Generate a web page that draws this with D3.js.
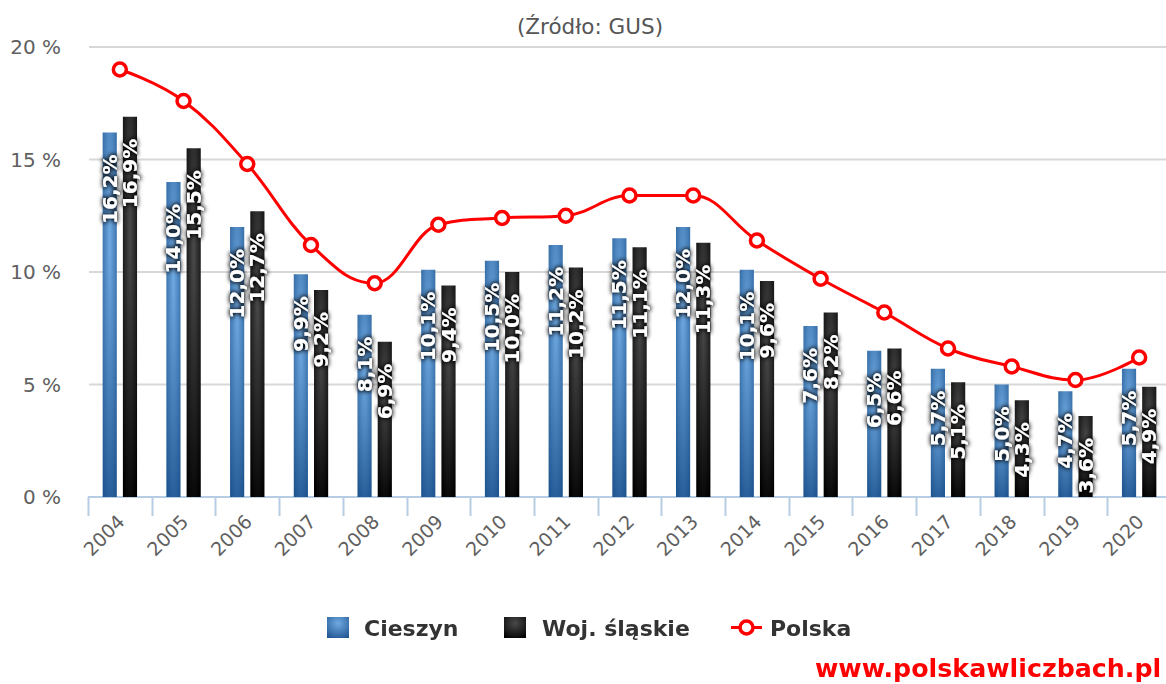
<!DOCTYPE html>
<html>
<head>
<meta charset="utf-8">
<script src="https://cdn.jsdelivr.net/npm/d3@7"></script>
<style>
  html, body { margin: 0; padding: 0; background: #fff; }
  svg { display: block; font-family: "DejaVu Sans", Verdana, sans-serif; }
</style>
</head>
<body>
<svg id="chart" width="1166" height="684"></svg>
<script>
const years = ['2004','2005','2006','2007','2008','2009','2010','2011','2012','2013','2014','2015','2016','2017','2018','2019','2020'];
const cieszyn = [16.2, 14.0, 12.0, 9.9, 8.1, 10.1, 10.5, 11.2, 11.5, 12.0, 10.1, 7.6, 6.5, 5.7, 5.0, 4.7, 5.7];
const slaskie = [16.9, 15.5, 12.7, 9.2, 6.9, 9.4, 10.0, 10.2, 11.1, 11.3, 9.6, 8.2, 6.6, 5.1, 4.3, 3.6, 4.9];
const polska  = [19.0, 17.6, 14.8, 11.2, 9.5, 12.1, 12.4, 12.5, 13.4, 13.4, 11.4, 9.7, 8.2, 6.6, 5.8, 5.2, 6.2];
const yTicks = [0, 5, 10, 15, 20];
const seriesNames = ['Cieszyn', 'Woj. śląskie', 'Polska'];
const titleText = '(Źródło: GUS)';
const creditText = 'www.polskawliczbach.pl';

const svg = d3.select('#chart');
const W = 1166, H = 684;
const plot = { left: 88, right: 1171, top: 47, bottom: 497 };

const defs = svg.append('defs');
function radial(id, c0, c1) {
  const g = defs.append('radialGradient').attr('id', id)
    .attr('cx', 0.5).attr('cy', 0.3).attr('r', 0.8);
  g.append('stop').attr('offset', 0).attr('stop-color', c0);
  g.append('stop').attr('offset', 1).attr('stop-color', c1);
}
radial('gBlue', '#70aae2', '#1f5590');
radial('gBlack', '#4a4a4a', '#000000');
const f = defs.append('filter').attr('id', 'ts')
  .attr('x', '-50%').attr('y', '-50%').attr('width', '200%').attr('height', '200%');
f.append('feMorphology').attr('in', 'SourceAlpha').attr('operator', 'dilate').attr('radius', 1.2).attr('result', 'd');
f.append('feGaussianBlur').attr('in', 'd').attr('stdDeviation', 2).attr('result', 'b');
f.append('feFlood').attr('flood-color', '#000').attr('flood-opacity', 0.9);
f.append('feComposite').attr('in2', 'b').attr('operator', 'in').attr('result', 's');
const fm = f.append('feMerge');
fm.append('feMergeNode').attr('in', 's');
fm.append('feMergeNode').attr('in', 'SourceGraphic');

// scales
const xb = d3.scaleBand().domain(years).range([plot.left, plot.right]).padding(0);
const x0 = d3.scaleBand().domain(years).range([plot.left, plot.right])
  .paddingInner(0.46).paddingOuter(0.23);
const x1 = d3.scaleBand().domain(['c', 's']).range([0, x0.bandwidth()]).paddingInner(0.3);
const y = d3.scaleLinear().domain([0, 20]).range([plot.bottom, plot.top]);

// title
svg.append('text').attr('x', 590).attr('y', 34).attr('text-anchor', 'middle')
  .attr('font-size', 21.5).attr('fill', '#555').text(titleText);

// grid
svg.append('g').selectAll('line').data(yTicks.filter(d => d > 0)).join('line')
  .attr('x1', plot.left + 1).attr('x2', W)
  .attr('y1', d => y(d)).attr('y2', d => y(d))
  .attr('stroke', '#d8d8d8').attr('stroke-width', 2);

// y labels
svg.append('g').selectAll('text').data(yTicks).join('text')
  .attr('x', 61).attr('y', d => y(d)).attr('dy', '0.36em')
  .attr('text-anchor', 'end').attr('font-size', 20).attr('fill', '#606060')
  .text(d => d + ' %');

// x axis
const xAxisG = svg.append('g');
xAxisG.append('line').attr('x1', plot.left).attr('x2', W)
  .attr('y1', y(0)).attr('y2', y(0)).attr('stroke', '#b7cde3').attr('stroke-width', 2);
xAxisG.selectAll('line.tick').data(years).join('line').attr('class', 'tick')
  .attr('x1', d => Math.round(xb(d)) + 0.5).attr('x2', d => Math.round(xb(d)) + 0.5)
  .attr('y1', y(0)).attr('y2', y(0) + 19)
  .attr('stroke', '#b7cde3').attr('stroke-width', 2);
xAxisG.selectAll('text').data(years).join('text')
  .attr('transform', d => `translate(${xb(d) + xb.bandwidth() / 2 + 6},${y(0) + 26}) rotate(-45)`)
  .attr('text-anchor', 'end').attr('font-size', 19).attr('fill', '#606060')
  .text(d => d);

// bars
const barData = [];
years.forEach((yr, i) => {
  barData.push({ yr, k: 'c', v: cieszyn[i] });
  barData.push({ yr, k: 's', v: slaskie[i] });
});
svg.append('g').selectAll('rect').data(barData).join('rect')
  .attr('x', d => x0(d.yr) + x1(d.k))
  .attr('width', x1.bandwidth())
  .attr('y', d => y(d.v))
  .attr('height', d => y(0) - y(d.v))
  .attr('fill', d => d.k === 'c' ? 'url(#gBlue)' : 'url(#gBlack)');

// data labels
const fmt = v => d3.format('.1f')(v).replace('.', ',') + '%';
const lblG = svg.append('g').attr('filter', 'url(#ts)');
['c', 's'].forEach(k => {
  lblG.append('g').selectAll('text').data(barData.filter(d => d.k === k)).join('text')
    .attr('transform', d => `translate(${x0(d.yr) + x1(d.k) + x1.bandwidth() / 2 + 7},${y(d.v) + 22}) rotate(-90)`)
    .attr('text-anchor', 'end').attr('font-size', 20).attr('font-weight', 'bold')
    .attr('fill', '#fff').text(d => fmt(d.v));
});

// Polska line: Highcharts-style spline built with d3.path from scaled points
const pts = years.map((yr, i) => ({ yr, v: polska[i] }));
const P = pts.map(d => [xb(d.yr) + xb.bandwidth() / 2, y(d.v)]);
function splinePath(p) {
  const s = 1.5, den = s + 1;
  const ctrl = p.map((pt, i) => {
    if (i === 0 || i === p.length - 1) return { l: pt, r: pt };
    const [x, yy] = pt, [lx, ly] = p[i - 1], [nx, ny] = p[i + 1];
    let lcx = (s * x + lx) / den, lcy = (s * yy + ly) / den;
    let rcx = (s * x + nx) / den, rcy = (s * yy + ny) / den;
    const corr = ((rcy - lcy) * (rcx - x)) / (rcx - lcx) + yy - rcy;
    lcy += corr; rcy += corr;
    if (lcy > ly && lcy > yy) { lcy = Math.max(ly, yy); rcy = 2 * yy - lcy; }
    else if (lcy < ly && lcy < yy) { lcy = Math.min(ly, yy); rcy = 2 * yy - lcy; }
    if (rcy > ny && rcy > yy) { rcy = Math.max(ny, yy); lcy = 2 * yy - rcy; }
    else if (rcy < ny && rcy < yy) { rcy = Math.min(ny, yy); lcy = 2 * yy - rcy; }
    return { l: [lcx, lcy], r: [rcx, rcy] };
  });
  const path = d3.path();
  path.moveTo(p[0][0], p[0][1]);
  for (let i = 1; i < p.length; i++) {
    const a = ctrl[i - 1].r, b = ctrl[i].l;
    path.bezierCurveTo(a[0], a[1], b[0], b[1], p[i][0], p[i][1]);
  }
  return path.toString();
}
svg.append('path').attr('d', splinePath(P))
  .attr('fill', 'none').attr('stroke', '#ff0000').attr('stroke-width', 3);
svg.append('g').selectAll('circle').data(pts).join('circle')
  .attr('cx', d => xb(d.yr) + xb.bandwidth() / 2).attr('cy', d => y(d.v))
  .attr('r', 6.5).attr('fill', '#fff').attr('stroke', '#ff0000').attr('stroke-width', 3.5);

// legend
const lg = svg.append('g').attr('font-size', 22).attr('font-weight', 'bold').attr('fill', '#333');
lg.append('rect').attr('x', 327).attr('y', 617).attr('width', 22).attr('height', 21).attr('fill', 'url(#gBlue)');
lg.append('text').attr('x', 364).attr('y', 636).text(seriesNames[0]);
lg.append('rect').attr('x', 504).attr('y', 617).attr('width', 22).attr('height', 21).attr('fill', 'url(#gBlack)');
lg.append('text').attr('x', 542).attr('y', 636).text(seriesNames[1]);
lg.append('line').attr('x1', 731).attr('x2', 762).attr('y1', 627.5).attr('y2', 627.5)
  .attr('stroke', '#ff0000').attr('stroke-width', 3);
lg.append('circle').attr('cx', 746.5).attr('cy', 627.5).attr('r', 6.5)
  .attr('fill', '#fff').attr('stroke', '#ff0000').attr('stroke-width', 3.5);
lg.append('text').attr('x', 770).attr('y', 636).text(seriesNames[2]);

// credit
svg.append('text').attr('x', 815).attr('y', 677).attr('font-size', 25.3).attr('font-weight', 'bold')
  .attr('fill', '#ff0000').text(creditText);
</script>
</body>
</html>
